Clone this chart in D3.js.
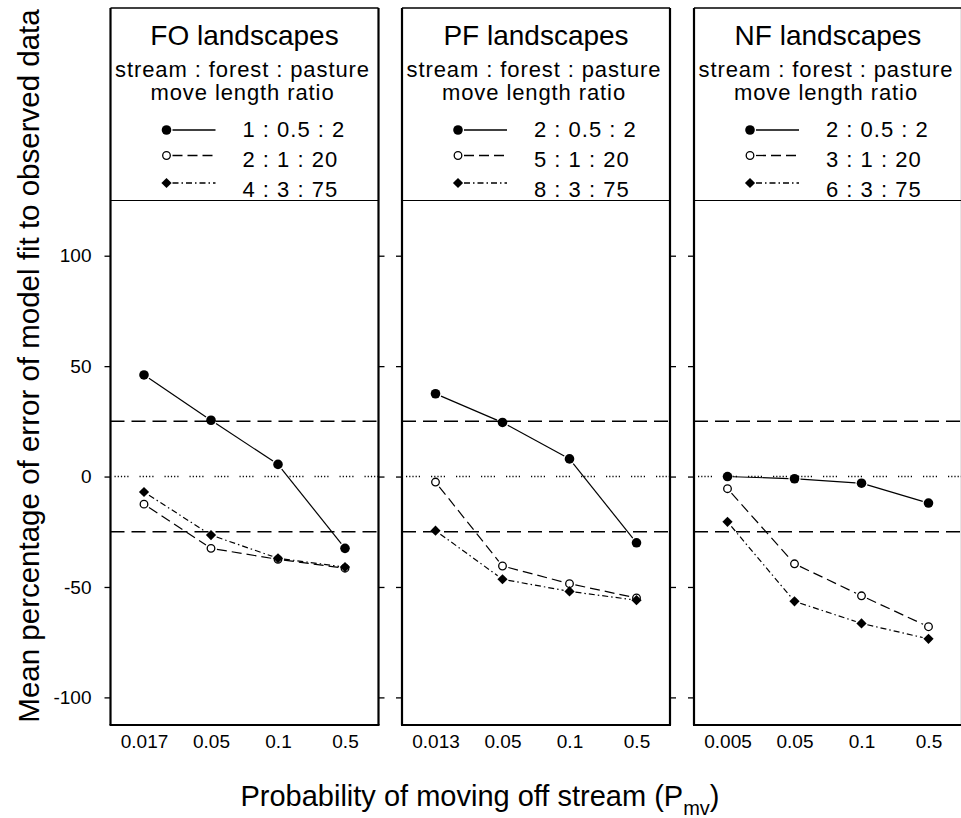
<!DOCTYPE html>
<html>
<head>
<meta charset="utf-8">
<script src="https://cdn.jsdelivr.net/npm/d3@7"></script>
<style>
  html, body { margin: 0; padding: 0; background: #fff; }
  svg { display: block; font-family: "Liberation Sans", Arial, sans-serif; }
</style>
</head>
<body>
<div id="chart"></div>
<script>
'use strict';

// panel headers
var panelTitles = ["FO landscapes", "PF landscapes", "NF landscapes"];
var legendHeading = ["stream : forest : pasture", "move length ratio"];
var legendLabels = [
  ["1 : 0.5 : 2", "2 : 1 : 20", "4 : 3 : 75"],
  ["2 : 0.5 : 2", "5 : 1 : 20", "8 : 3 : 75"],
  ["2 : 0.5 : 2", "3 : 1 : 20", "6 : 3 : 75"]
];

// x categories (probability of moving off stream)
var xLabels = [
  ["0.017", "0.05", "0.1", "0.5"],
  ["0.013", "0.05", "0.1", "0.5"],
  ["0.005", "0.05", "0.1", "0.5"]
];

// mean % error, one row per panel
var filledValues = [
  [46, 25.5, 5.5, -32.5],
  [37.5, 24.5, 8, -30],
  [0, -1, -3, -12]
];
var openValues = [
  [-12.5, -32.5, -37.5, -41.5],
  [-2.5, -40.5, -48.5, -55],
  [-5.5, -39.5, -54, -68]
];
var diamondValues = [
  [-7, -26.5, -37, -41],
  [-24.5, -46.5, -52, -56],
  [-20.5, -56.5, -66.5, -73.5]
];

var yTicks = [-100, -50, 0, 50, 100];
var yDomain = [-112.5, 125];
var dashedRefs = [-25, 25];
var dottedRef = [0];

var xTitle = "Probability of moving off stream (P";
var xTitleSub = "mv";
var yTitle = "Mean percentage of error of model fit to observed data";

(function() {
  var width = 961;
  var height = 818;
  var panelLeft = [110.5, 402, 694];
  var panelW = 268;
  var top = 8;
  var headBottom = 200.5;
  var bottom = 725;

  var svg = d3.select("#chart")
    .append("svg")
    .attr("width", width)
    .attr("height", height);

  var y = d3.scaleLinear()
    .domain(yDomain)
    .range([bottom, headBottom]);

  var series = [
    { values: filledValues, dash: null, marker: "filled" },
    { values: openValues, dash: "10,5", marker: "open" },
    { values: diamondValues, dash: "6,3,1.5,3", marker: "diamond" }
  ];

  function drawMarker(g, kind, cx, cy) {
    if (kind === "filled") {
      g.append("circle").attr("cx", cx).attr("cy", cy).attr("r", 4.8)
        .attr("fill", "#000");
    } else if (kind === "open") {
      g.append("circle").attr("cx", cx).attr("cy", cy).attr("r", 3.8)
        .attr("fill", "#fff").attr("stroke", "#000").attr("stroke-width", 1.3);
    } else {
      g.append("path")
        .attr("d", d3.symbol().type(d3.symbolSquare).size(52)())
        .attr("transform", "translate(" + cx + "," + cy + ") rotate(45)")
        .attr("fill", "#000");
    }
  }

  panelTitles.forEach(function(title, p) {
    var g = svg.append("g")
      .attr("transform", "translate(" + panelLeft[p] + ",0)");

    var x = d3.scalePoint()
      .domain(xLabels[p])
      .range([0, panelW])
      .padding(0.5);

    // reference lines
    g.selectAll(".dashed")
      .data(dashedRefs)
      .enter().append("line")
      .attr("x1", 0).attr("x2", panelW)
      .attr("y1", function(d) { return y(d); })
      .attr("y2", function(d) { return y(d); })
      .attr("stroke", "#000").attr("stroke-width", 1.5)
      .attr("stroke-dasharray", "14,7");

    g.selectAll(".dotted")
      .data(dottedRef)
      .enter().append("line")
      .attr("x1", 4).attr("x2", panelW)
      .attr("y1", function(d) { return y(d); })
      .attr("y2", function(d) { return y(d); })
      .attr("stroke", "#000").attr("stroke-width", 1.4)
      .attr("stroke-dasharray", "1.2,2,1.2,2,1.2,2,1.2,2,1.2,11");

    // series lines, stopping short of the markers
    series.forEach(function(s) {
      var vals = s.values[p];
      var pts = vals.map(function(v, i) { return [x(xLabels[p][i]), y(v)]; });
      for (var i = 0; i < pts.length - 1; i++) {
        var a = pts[i], b = pts[i + 1];
        var dx = b[0] - a[0], dy = b[1] - a[1];
        var len = Math.sqrt(dx * dx + dy * dy);
        var gap = 6;
        g.append("line")
          .attr("x1", a[0] + dx * gap / len).attr("y1", a[1] + dy * gap / len)
          .attr("x2", b[0] - dx * gap / len).attr("y2", b[1] - dy * gap / len)
          .attr("stroke", "#000").attr("stroke-width", 1.2)
          .attr("stroke-dasharray", s.dash);
      }
    });

    series.forEach(function(s) {
      s.values[p].forEach(function(v, i) {
        drawMarker(g, s.marker, x(xLabels[p][i]), y(v));
      });
    });

    // frame
    g.append("line").attr("x1", 0).attr("x2", panelW)
      .attr("y1", top).attr("y2", top)
      .attr("stroke", "#000").attr("stroke-width", 1.6);
    g.append("line").attr("x1", 0).attr("x2", panelW)
      .attr("y1", headBottom).attr("y2", headBottom)
      .attr("stroke", "#000").attr("stroke-width", 1.2);
    g.append("line").attr("x1", -1).attr("x2", panelW + 1)
      .attr("y1", bottom).attr("y2", bottom)
      .attr("stroke", "#000").attr("stroke-width", 2.2);
    [0, panelW].forEach(function(xx) {
      g.append("line").attr("x1", xx).attr("x2", xx)
        .attr("y1", top).attr("y2", bottom)
        .attr("stroke", "#000").attr("stroke-width", 2.2);
    });

    // y ticks on both sides
    var left = g.append("g")
      .call(d3.axisLeft(y).tickValues(yTicks).tickSize(6).tickPadding(13)
        .tickFormat(p === 0 ? function(d) { return String(d); } : ""));
    var right = g.append("g")
      .attr("transform", "translate(" + panelW + ",0)")
      .call(d3.axisRight(y).tickValues(yTicks).tickSize(6).tickFormat(""));
    [left, right].forEach(function(ax) {
      ax.select(".domain").remove();
      ax.selectAll("line").attr("stroke", "#000").attr("stroke-width", 1.3);
      ax.selectAll("text").attr("fill", "#000")
        .style("font-size", "19px")
        .style("font-family", "'Liberation Sans', Arial, sans-serif");
    });

    // x tick labels
    var xa = g.append("g")
      .attr("transform", "translate(0," + bottom + ")")
      .call(d3.axisBottom(x).tickSize(0).tickPadding(10));
    xa.select(".domain").remove();
    xa.selectAll("text").attr("fill", "#000")
      .style("font-size", "19px")
      .style("font-family", "'Liberation Sans', Arial, sans-serif");

    // header
    var cx = panelW / 2;
    g.append("text")
      .attr("x", cx).attr("y", 45)
      .attr("text-anchor", "middle")
      .style("font-size", "28px")
      .text(title);
    g.append("text")
      .attr("x", cx - 2).attr("y", 77)
      .attr("text-anchor", "middle")
      .style("font-size", "22px")
      .style("letter-spacing", "0.9px")
      .text(legendHeading[0]);
    g.append("text")
      .attr("x", cx - 2).attr("y", 100)
      .attr("text-anchor", "middle")
      .style("font-size", "22px")
      .style("letter-spacing", "0.9px")
      .text(legendHeading[1]);

    var rowMarkY = [130, 155.5, 183];
    var rowTextY = [137, 167, 197];
    series.forEach(function(s, i) {
      var mx = 56;
      g.append("line")
        .attr("x1", mx + 6).attr("x2", 105)
        .attr("y1", rowMarkY[i]).attr("y2", rowMarkY[i])
        .attr("stroke", "#000").attr("stroke-width", 1.3)
        .attr("stroke-dasharray", s.dash);
      drawMarker(g, s.marker, mx, rowMarkY[i]);
      g.append("text")
        .attr("x", 132).attr("y", rowTextY[i])
        .style("font-size", "22px")
        .style("letter-spacing", "1px")
        .text(legendLabels[p][i]);
    });
  });

  // axis titles
  var xt = svg.append("text")
    .attr("x", 480).attr("y", 806)
    .attr("text-anchor", "middle")
    .style("font-size", "29px");
  xt.append("tspan").text(xTitle);
  xt.append("tspan").attr("dy", 9).style("font-size", "20px").text(xTitleSub);
  xt.append("tspan").attr("dy", -9).text(")");

  svg.append("text")
    .attr("transform", "translate(39,366) rotate(-90)")
    .attr("text-anchor", "middle")
    .style("font-size", "29.5px")
    .text(yTitle);
})();
</script>
</body>
</html>
